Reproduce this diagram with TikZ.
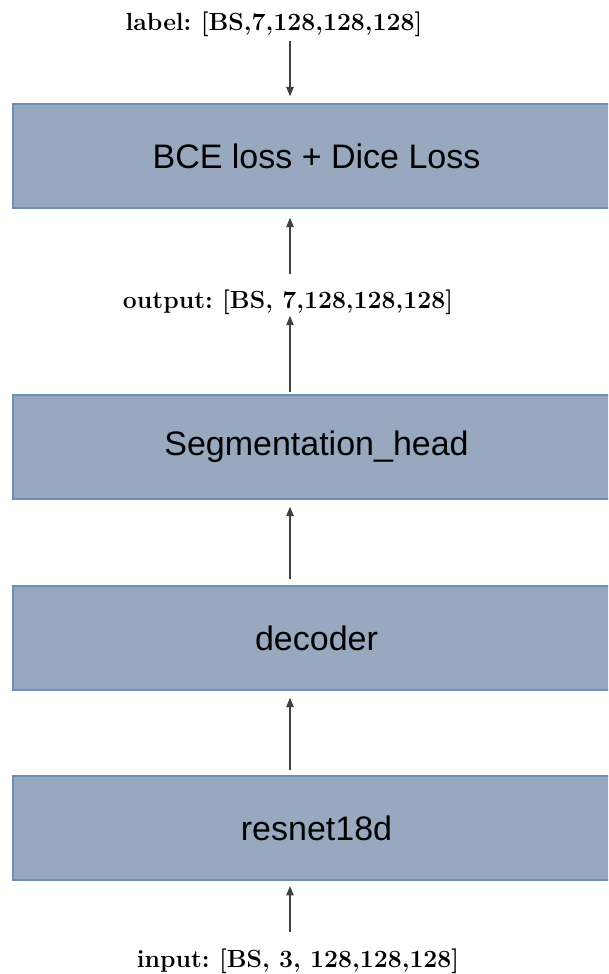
\documentclass[tikz,border=0pt]{standalone}
\usepackage{fontspec}
\newfontfamily\boxfont{Liberation Sans}
\usetikzlibrary{arrows.meta}

\definecolor{boxfill}{RGB}{152,169,191}
\definecolor{boxline}{RGB}{110,142,190}

\tikzset{
  layer/.style={draw=boxline,fill=boxfill,line width=1.5pt,inner sep=0pt,
    minimum width=455pt,minimum height=78pt,
    font=\boxfont\fontsize{25.5}{30}\selectfont},
  shapelabel/.style={anchor=base,inner sep=0pt,
    font=\frenchspacing\bfseries\fontsize{18.6}{22}\selectfont},
  flow/.style={-{Triangle[length=7pt,width=5.5pt]},line width=1pt,black!75},
}

\begin{document}
\begin{tikzpicture}[x=0.75pt,y=-0.75pt]
  \useasboundingbox (0,0) rectangle (608,974);
  \clip (0,0) rectangle (608,974);
  \pgfmathsetmacro\cx{316.5}   % centre of the layer boxes

% layers, top to bottom
  \node[layer] (loss)    at (\cx,156) {BCE loss + Dice Loss};
  \node[layer] (seghead) at (\cx,447) {Segmentation\_head};
  \node[layer] (decoder) at (\cx,638) {decoder};
  \node[layer] (encoder) at (\cx,828) {resnet18d};

% tensor shapes
  \node[shapelabel] (label)  at (274,31)  {label: [BS,7,128,128,128]};
  \node[shapelabel] (output) at (288,308) {output: [BS, 7,128,128,128]};
  \node[shapelabel] (input)  at (298,967) {input: [BS, 3, 128,128,128]};

% arrows
  \coordinate (axis) at (290,0);
  \draw[flow,shorten <=3pt,shorten >=5pt] (label.south -| axis) -- (loss.north -| axis);
  \draw[flow,shorten <=11pt,shorten >=6.5pt] (output.north -| axis) -- (loss.south -| axis);
  \draw[flow,shorten <=1.5pt,shorten >=1pt] (seghead.north -| axis) -- (output.south -| axis);
  \draw[flow,shorten <=4.5pt,shorten >=5pt] (decoder.north -| axis) -- (seghead.south -| axis);
  \draw[flow,shorten <=3.75pt,shorten >=5pt] (encoder.north -| axis) -- (decoder.south -| axis);
  \draw[flow,shorten <=12pt,shorten >=3.75pt] (input.north -| axis) -- (encoder.south -| axis);

\end{tikzpicture}
\end{document}
